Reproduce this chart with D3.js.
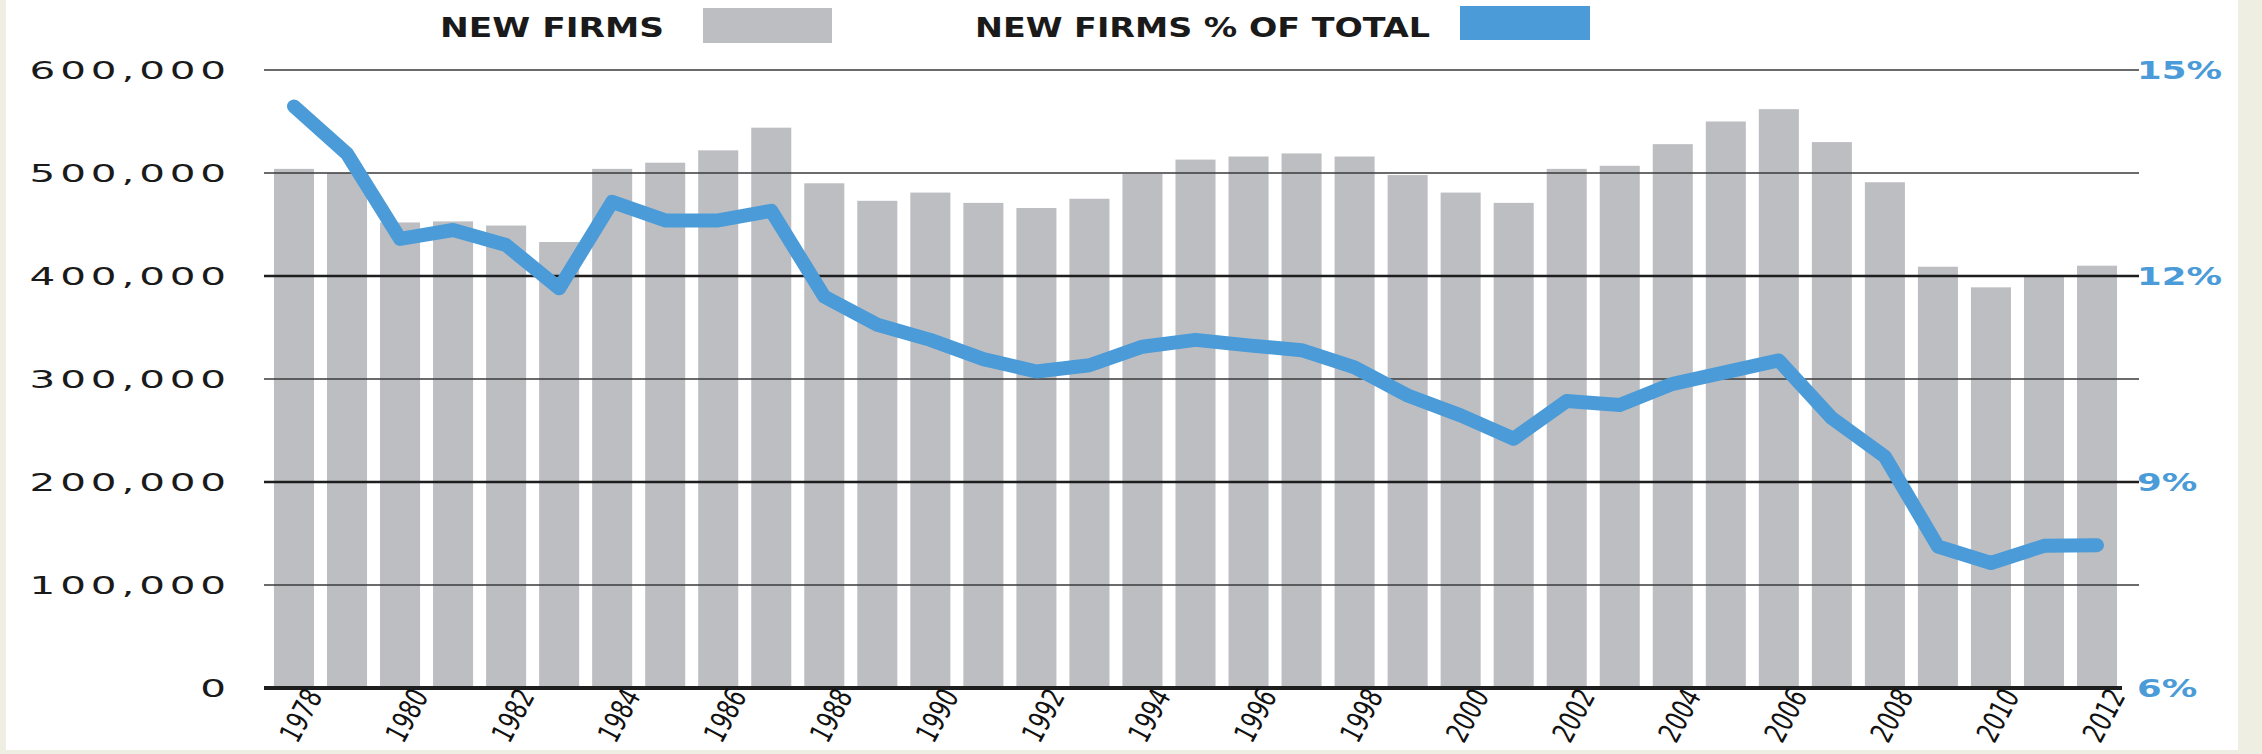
<!DOCTYPE html>
<html>
<head>
<meta charset="utf-8">
<script src="https://cdn.jsdelivr.net/npm/d3@7"></script>
<style>
  body { margin: 0; background: #fff; }
  svg { display: block; }
</style>
</head>
<body>
<svg id="chart"></svg>
<script>
// New firms per year (bars, left axis) and new firms as % of all firms (line, right axis)
const years = [1978, 1979, 1980, 1981, 1982, 1983, 1984, 1985, 1986, 1987,
  1988, 1989, 1990, 1991, 1992, 1993, 1994, 1995, 1996, 1997,
  1998, 1999, 2000, 2001, 2002, 2003, 2004, 2005, 2006, 2007,
  2008, 2009, 2010, 2011, 2012];
const newFirms = [504000, 500000, 452000, 453000, 449000, 433000, 504000, 510000, 522000, 544000,
  490000, 473000, 481000, 471000, 466000, 475000, 499000, 513000, 516000, 519000,
  516000, 498000, 481000, 471000, 504000, 507000, 528000, 550000, 562000, 530000,
  491000, 409000, 389000, 401000, 410000];
const newFirmsPct = [14.47, 13.78, 12.54, 12.67, 12.45, 11.82, 13.08, 12.81, 12.81, 12.95,
  11.70, 11.29, 11.07, 10.79, 10.61, 10.70, 10.97, 11.07, 10.99, 10.92,
  10.67, 10.26, 9.97, 9.63, 10.18, 10.12, 10.43, 10.60, 10.77, 9.93,
  9.37, 8.06, 7.82, 8.07, 8.08];
const leftTicks = [0, 100000, 200000, 300000, 400000, 500000, 600000];
const rightTicks = [6, 9, 12, 15];
const yearLabels = years.filter((d, i) => i % 2 === 0);
const legendNames = ["NEW FIRMS", "NEW FIRMS % OF TOTAL"];

const width = 2262, height = 754;
const barColor = "#bdbec2", lineColor = "#4a9bd8", ink = "#1a1a1a";
const plotLeft = 264, plotRight = 2139, baseY = 688, topY = 70;

const svg = d3.select("#chart").attr("width", width).attr("height", height);

// frame strips like the scanned page border
svg.append("rect").attr("x", 0).attr("y", 0).attr("width", width).attr("height", height).attr("fill", "#fff");
svg.append("rect").attr("x", 0).attr("y", 0).attr("width", 6).attr("height", height).attr("fill", "#efeee2");
svg.append("rect").attr("x", 2238).attr("y", 0).attr("width", 24).attr("height", height).attr("fill", "#efeee2");
svg.append("rect").attr("x", 0).attr("y", 750).attr("width", width).attr("height", 4).attr("fill", "#efeee2");

// scales
const x = d3.scaleBand()
  .domain(years)
  .range([267.6, 2123.4])
  .paddingInner(0.245)
  .paddingOuter(0.12);
const y = d3.scaleLinear().domain([0, 600000]).range([baseY, topY]);
const yPct = d3.scaleLinear().domain([6, 15]).range([baseY, topY]);

// bars
svg.append("g")
  .selectAll("rect")
  .data(years)
  .join("rect")
  .attr("x", d => x(d))
  .attr("y", (d, i) => y(newFirms[i]))
  .attr("width", x.bandwidth())
  .attr("height", (d, i) => baseY - y(newFirms[i]))
  .attr("fill", barColor);

// gridlines (drawn over the bars); lines at the % ticks are heavier
svg.append("g")
  .selectAll("line")
  .data(leftTicks.filter(d => d > 0))
  .join("line")
  .attr("x1", plotLeft)
  .attr("x2", plotRight)
  .attr("y1", d => y(d))
  .attr("y2", d => y(d))
  .attr("stroke", d => (d === 200000 || d === 400000) ? "#1e1e1e" : "#3a3a3a")
  .attr("stroke-width", d => (d === 200000 || d === 400000) ? 2.6 : 1.6);

svg.append("line")
  .attr("x1", plotLeft)
  .attr("x2", 2122)
  .attr("y1", y(0))
  .attr("y2", y(0))
  .attr("stroke", "#1e1e1e")
  .attr("stroke-width", 4);

// share line
const line = d3.line()
  .x((d, i) => x(years[i]) + x.bandwidth() / 2)
  .y(d => yPct(d));

svg.append("path")
  .datum(newFirmsPct)
  .attr("d", line)
  .attr("fill", "none")
  .attr("stroke", lineColor)
  .attr("stroke-width", 14)
  .attr("stroke-linejoin", "round")
  .attr("stroke-linecap", "round");

// left axis
const leftAxis = svg.append("g")
  .attr("transform", "translate(231,0)")
  .call(d3.axisLeft(y).tickValues(leftTicks).tickFormat(d3.format(",")).tickSize(0).tickPadding(0));
leftAxis.select(".domain").remove();
leftAxis.selectAll("text")
  .attr("x", 0)
  .attr("transform", "scale(1.62,1)")
  .style("font-family", "'DejaVu Sans', sans-serif")
  .style("font-size", "25px")
  .style("letter-spacing", "3px")
  .style("fill", ink);

// right axis
const rightAxis = svg.append("g")
  .attr("transform", "translate(2137,0)")
  .call(d3.axisRight(yPct).tickValues(rightTicks).tickFormat(d => d + "%").tickSize(0).tickPadding(0));
rightAxis.select(".domain").remove();
rightAxis.selectAll("text")
  .attr("x", 0)
  .attr("transform", "scale(1.42,1)")
  .style("font-family", "'DejaVu Sans', sans-serif")
  .style("font-weight", "bold")
  .style("font-size", "25px")
  .style("fill", lineColor);

// year axis: tall, condensed, slanted labels
const xAxis = svg.append("g")
  .attr("transform", `translate(0,${baseY})`)
  .call(d3.axisBottom(x).tickValues(yearLabels).tickSize(0));
xAxis.select(".domain").remove();
xAxis.selectAll("text")
  .attr("x", 0)
  .attr("y", 0)
  .attr("dy", 0)
  .attr("transform", "translate(29,8) rotate(-62) scale(0.8,1)")
  .style("text-anchor", "end")
  .style("font-family", "'DejaVu Sans Condensed', 'DejaVu Sans', sans-serif")
  .style("font-size", "30px")
  .style("fill", "#111");

// legend
const legend = svg.append("g")
  .style("font-family", "'DejaVu Sans', sans-serif")
  .style("font-weight", "bold")
  .style("font-size", "27px")
  .style("fill", ink);

legend.append("text").attr("x", 440).attr("y", 37)
  .attr("textLength", 224).attr("lengthAdjust", "spacingAndGlyphs")
  .text(legendNames[0]);
legend.append("rect").attr("x", 703).attr("y", 8).attr("width", 129).attr("height", 35).attr("fill", barColor);

legend.append("text").attr("x", 975).attr("y", 37)
  .attr("textLength", 455).attr("lengthAdjust", "spacingAndGlyphs")
  .text(legendNames[1]);
legend.append("rect").attr("x", 1460).attr("y", 6).attr("width", 130).attr("height", 34).attr("fill", lineColor);
</script>
</body>
</html>
